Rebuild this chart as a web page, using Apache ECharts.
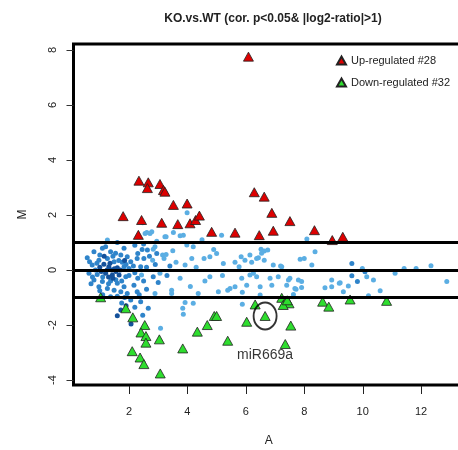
<!DOCTYPE html>
<html>
<head>
<meta charset="utf-8">
<script src="https://cdn.jsdelivr.net/npm/echarts@6/dist/echarts.min.js"></script>
<style>html,body{margin:0;padding:0;background:#fff;}#c{width:458px;height:450px;}</style>
</head>
<body>
<div id="c"></div>
<script>
// ---- data ----
var titleText = 'KO.vs.WT (cor. p<0.05& |log2-ratio|>1)';
var xName = 'A';
var yName = 'M';
var xTicks = [2, 4, 6, 8, 10, 12];
var yTicks = [-4, -2, 0, 2, 4, 6, 8];
var refLines = [1, 0, -1];
var upName = 'Up-regulated #28';
var downName = 'Down-regulated #32';

var upRegulated = [
  [2.34,3.25],[2.66,3.19],[2.63,2.98],[3.06,3.13],[3.18,2.91],[3.23,2.85],[3.52,2.37],[3.99,2.42],
  [1.80,1.96],[2.43,1.82],[3.12,1.72],[3.67,1.67],[4.09,1.70],[4.28,1.82],[4.41,1.98],[4.83,1.39],
  [2.32,1.28],[6.09,7.76],[6.29,2.83],[6.63,2.67],[6.89,2.08],[7.51,1.78],[5.63,1.36],[6.46,1.27],
  [6.94,1.43],[8.35,1.45],[8.96,1.09],[9.32,1.21]
];
var downRegulated = [
  [1.03,-0.99],[1.89,-1.39],[2.13,-1.72],[2.54,-2.0],[2.41,-2.27],[2.58,-2.4],[2.58,-2.64],[3.04,-2.52],
  [2.11,-2.95],[2.38,-3.18],[2.51,-3.42],[3.07,-3.76],[3.84,-2.85],[4.34,-2.24],[4.68,-2.0],[4.92,-1.67],
  [5.0,-1.67],[5.38,-2.57],[6.03,-1.88],[6.32,-1.25],[6.66,-1.67],[7.23,-1.01],[7.34,-1.18],[7.48,-1.21],
  [7.28,-1.27],[7.42,-1.10],[7.54,-2.02],[7.35,-2.69],[8.63,-1.15],[8.84,-1.33],[9.57,-1.07],[10.82,-1.12]
];
var bgSparse = [
  [1.26,1.09],[2.47,1.72],[3.99,2.08],[2.55,1.33],[2.72,1.33],[2.61,1.37],[2.78,1.39],[3.23,1.21],[3.27,1.21],
  [3.52,1.37],[3.75,1.25],[3.86,1.27],[5.17,1.27],[8.09,1.13],[4.5,1.1],[2.95,1.05],
  [2.89,0.85],[2.83,0.76],[3.15,0.55],[3.27,0.57],[2.81,0.36],[3.20,0.42],[3.61,0.28],[3.92,0.18],[4.15,0.42],
  [4.57,0.42],[4.77,0.48],[3.98,0.91],[4.20,0.85],[4.9,0.75],[5.23,0.24],[5.63,0.28],[5.77,0.12],[5.84,0.48],
  [5.97,0.36],[6.14,0.55],[6.20,0.28],[6.43,0.45],[6.52,0.76],[6.63,0.69],[6.75,0.73],[6.54,0.61],[6.63,0.36],
  [6.94,0.18],[7.23,0.12],[7.86,0.39],[8.0,0.42],[8.37,0.67],[8.26,0.18],[7.19,0.15],[6.37,0.42],[9.99,0.06],
  [11.42,0.06],[11.83,0.06],[12.34,0.16],[4.3,0.1],[5.0,0.6],[3.5,0.7],
  [2.43,-0.18],[3.06,-0.12],[3.75,-0.30],[4.77,-0.24],[2.89,-0.85],[3.46,-0.73],[3.46,-0.85],[4.37,-0.85],
  [3.84,-1.39],[3.92,-1.18],[4.20,-1.21],[3.86,-1.61],[6.14,-0.18],[6.26,-0.12],[6.37,-0.24],[5.86,-0.30],
  [6.83,-0.30],[7.11,-0.24],[7.51,-0.30],[7.80,-0.36],[7.91,-0.42],[6.89,-0.55],[7.40,-0.55],[7.68,-0.67],
  [5.46,-0.67],[5.38,-0.73],[5.63,-0.61],[6.03,-0.55],[5.06,-0.79],[5.88,-0.81],[7.63,-0.89],[8.71,-0.64],
  [8.94,-0.36],[5.88,-1.24],[6.49,-0.61],[6.49,-0.91],[7.91,-0.63],[7.72,-0.70],[7.46,-0.36],[10.14,-0.24],
  [10.37,-0.36],[9.51,-0.58],[9.20,-0.48],[8.94,-0.61],[9.34,-0.79],[10.60,-0.75],[10.20,-0.93],[11.11,-0.12],
  [12.88,-0.42],[9.23,-0.46],[3.08,-2.12],[4.6,-0.4],[4.1,-0.6],[5.2,-0.2]
];
var bgMid = [
  [9.63,0.24],[10.08,-0.06],[9.63,-0.21],[9.82,-0.42],
  [1.09,0.79],[0.80,0.67],[1.37,0.67],[1.54,0.61],[1.72,0.55],[1.94,0.48],[0.57,0.45],[0.97,0.36],[1.49,0.30],
  [1.77,0.28],[2.06,0.30],[2.28,0.42],[0.74,0.18],[1.83,0.12],[2.0,0.06],[2.40,0.12],[0.63,-0.12],[0.91,-0.16],
  [1.89,-0.24],[0.80,-0.36],[1.09,-0.42],[1.37,-0.40],[1.60,-0.48],[1.83,-0.61],[2.17,-0.55],[1.26,-0.67],
  [1.49,-0.73],[0.97,-0.61],[1.72,-0.79],[1.94,-0.85],[2.28,-0.79],[1.37,-0.97],[2.06,-1.09],[2.40,-1.15],
  [2.63,0.73],[2.51,0.42],[2.83,-0.24],[2.66,-1.39],[2.47,-1.64],[1.83,0.79],[1.26,0.42],[2.2,0.9],[2.5,0.95],
  [1.6,1.0],[2.3,-0.3],[2.6,0.1],[0.7,-0.5],[1.1,-0.9],[1.75,-1.2],[2.2,-1.35],
  [0.9,0.25],[1.0,0.55],[1.2,0.85],[1.45,0.5],[1.65,0.35],[1.9,0.2],[2.15,0.15],[2.3,0.6],[0.85,0.0],
  [1.1,-0.25],[1.3,-0.5],[1.55,-0.35],[1.75,-0.4],[2.0,-0.2],[2.2,-0.1],[2.5,-0.4],[2.6,-0.7],[1.0,-0.75],
  [1.6,-0.95],[1.85,-1.0],[2.35,-0.9],[0.65,0.3],[0.75,-0.25],[2.7,0.5],[2.9,0.2],[3.0,-0.45],[2.95,0.6],
  [3.3,-0.2],[3.4,0.15],[2.45,0.75]
];
var bgDense = [
  [1.14,0.21],[1.31,0.12],[1.60,0.08],[1.20,-0.12],[1.43,-0.18],[1.66,-0.18],[1.4,0.0],[1.5,0.05],[1.25,0.0],
  [1.55,-0.05],[1.35,0.25],[1.7,0.0],[1.05,-0.05],[1.45,-0.3],[1.3,-0.25],[1.60,-1.66],[1.72,-1.45],
  [2.07,-1.96],[1.9,-1.3],[1.85,0.35],[1.15,0.5],[1.0,0.1]
];
var annotation = [[6.66, -1.67, 'miR669a']];

// ---- chart ----
var chart = echarts.init(document.getElementById('c'), null, {renderer: 'canvas'});
var font = 'Liberation Sans, Arial, Helvetica, sans-serif';
var xMin = 0.1, xMax = 13.47, yMin = -4.18, yMax = 8.22;

function dots(data, color) {
  return {type: 'scatter', data: data, symbol: 'circle', symbolSize: 5, silent: true,
          itemStyle: {color: color, opacity: 1}, z: 2};
}

var option = {
  animation: false,
  backgroundColor: '#fff',
  textStyle: {fontFamily: font},
  title: {text: titleText, left: 268, textAlign: 'center', top: 8,
          textStyle: {fontSize: 12, fontWeight: 'bold', color: '#222', fontFamily: font}},
  legend: {
    orient: 'vertical', left: 331, top: 50, itemWidth: 9, itemHeight: 8, itemGap: 11,
    data: [{name: upName, icon: 'triangle'}, {name: downName, icon: 'triangle'}],
    textStyle: {fontSize: 11, color: '#222', fontFamily: font},
    backgroundColor: '#fff'
  },
  grid: {left: 73.5, top: 44, bottom: 65, right: -6, show: true, borderColor: '#000',
         borderWidth: 3, backgroundColor: 'transparent', outerBoundsMode: 'none', containLabel: false},
  xAxis: {
    type: 'value', min: xMin, max: xMax, position: 'bottom',
    name: xName, nameLocation: 'middle', nameGap: 50,
    nameTextStyle: {fontSize: 12, color: '#222', fontFamily: font},
    axisLine: {show: true, onZero: false, lineStyle: {color: '#000', width: 1}}, splitLine: {show: false},
    axisTick: {show: false},
    axisLabel: {margin: 21, fontSize: 11, color: '#222', fontFamily: font, customValues: xTicks}
  },
  yAxis: {
    type: 'value', min: yMin, max: yMax, position: 'left',
    name: yName, nameLocation: 'middle', nameGap: 45, nameRotate: 90,
    nameTextStyle: {fontSize: 12, color: '#222', fontFamily: font},
    axisLine: {show: true, onZero: false, lineStyle: {color: '#000', width: 1}}, splitLine: {show: false},
    axisTick: {show: true, inside: false, length: 7, lineStyle: {color: '#333', width: 1}, customValues: yTicks},
    axisLabel: {margin: 15, rotate: 90, fontSize: 11, color: '#222', fontFamily: font, customValues: yTicks}
  },
  series: [
    dots(bgSparse, '#5BAEE3'),
    dots(bgMid, '#2F84CA'),
    Object.assign(dots(bgDense, '#14519B'), {
      markLine: {silent: true, symbol: 'none', label: {show: false}, animation: false,
                 lineStyle: {color: '#000', width: 3, type: 'solid'},
                 data: refLines.map(function (v) { return {yAxis: v}; })}
    }),
    {type: 'scatter', name: upName, data: upRegulated, symbol: 'triangle', symbolSize: [10, 9], z: 4,
     itemStyle: {color: '#DD0000', borderColor: '#222', borderWidth: 0.8, opacity: 1}},
    {type: 'scatter', name: downName, data: downRegulated, symbol: 'triangle', symbolSize: [10, 9], z: 4,
     itemStyle: {color: '#2EDD2E', borderColor: '#222', borderWidth: 0.8, opacity: 1}},
    {type: 'scatter', name: 'annotation', data: annotation.map(function (d) { return [d[0], d[1], d[2]]; }),
     symbol: 'circle', symbolSize: [23, 27], z: 5, silent: true,
     itemStyle: {color: 'transparent', borderColor: '#000', borderWidth: 2},
     label: {show: true, position: 'bottom', distance: 18, fontSize: 14, color: '#000', fontFamily: font,
             formatter: function (p) { return p.data[2]; }}}
  ]
};
chart.setOption(option);

// x-axis tick marks, positioned through the chart's own x/y scales
var tickGraphics = [];
xTicks.forEach(function (v) {
  var pt = chart.convertToPixel({gridIndex: 0}, [v, yMin]);
  if (!pt || isNaN(pt[0]) || isNaN(pt[1])) { return; }
  var px = Math.round(pt[0]) + 0.5;
  var py = Math.round(pt[1]);
  tickGraphics.push({type: 'line', silent: true, z: 100, zlevel: 0,
    shape: {x1: px, y1: py + 1, x2: px, y2: py + 9},
    style: {stroke: '#222', lineWidth: 1}});
});
chart.setOption({graphic: {elements: tickGraphics}});
</script>
</body>
</html>
